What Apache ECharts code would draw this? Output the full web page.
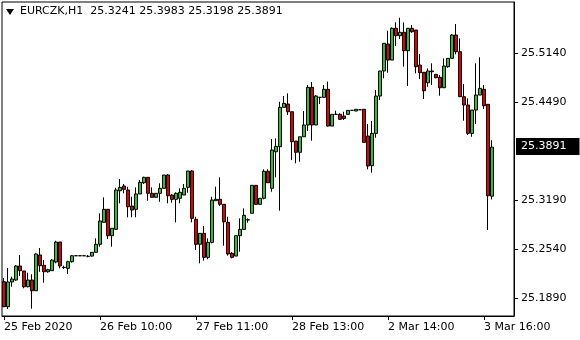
<!DOCTYPE html>
<html>
<head>
<meta charset="utf-8">
<script src="https://cdn.jsdelivr.net/npm/echarts@6/dist/echarts.min.js"></script>
<style>
html,body{margin:0;padding:0;background:#fff;}
#chart{width:580px;height:340px;}
</style>
</head>
<body>
<div id="chart"></div>
<script>
var symbolName = 'EURCZK,H1';
var tickLabels = ['25 Feb 2020', '26 Feb 10:00', '27 Feb 11:00', '28 Feb 13:00', '2 Mar 14:00', '3 Mar 16:00'];
var tickBars = [0, 24, 48, 72, 96, 120];
var priceTicks = [25.1890, 25.2540, 25.3190, 25.4490, 25.5140];

var opens = [
25.2107,25.1775,25.2103,25.2129,25.2315,25.2249,25.2040,25.2129,25.1987,25.2461,
25.2324,25.2239,25.2253,25.2368,25.2633,25.2298,25.2284,25.2372,25.2451,25.2451,
25.2451,25.2443,25.2447,25.2496,25.2603,25.2894,25.3067,25.2717,25.2801,25.3313,
25.3376,25.3323,25.3110,25.3067,25.3270,25.3419,25.3491,25.3279,25.3226,25.3279,
25.3345,25.3522,25.3256,25.3199,25.3213,25.3256,25.3358,25.3575,25.2934,25.2603,
25.2748,25.2430,25.2629,25.3181,25.3199,25.3133,25.2894,25.2483,25.2447,25.2717,
25.2801,25.2925,25.3014,25.3385,25.3133,25.3213,25.3571,25.3345,25.3830,25.3897,
25.4419,25.4463,25.4361,25.3972,25.3823,25.4029,25.4185,25.4684,25.4185,25.4552,
25.4552,25.4658,25.4171,25.4326,25.4326,25.4304,25.4326,25.4379,25.4370,25.4387,
25.4393,25.4039,25.3645,25.4074,25.4569,25.4901,25.5259,25.5046,25.5467,25.5369,
25.5414,25.5170,25.5467,25.5444,25.4980,25.4883,25.4745,25.4901,25.4857,25.4817,
25.4679,25.4958,25.5069,25.5378,25.5156,25.4560,25.4450,25.4074,25.4383,25.4582,
25.4658,25.4459,25.3241
];
var highs = [
25.2156,25.2288,25.2173,25.2328,25.2461,25.2249,25.2226,25.2205,25.2483,25.2554,
25.2394,25.2279,25.2408,25.2650,25.2633,25.2319,25.2385,25.2461,25.2451,25.2451,
25.2451,25.2461,25.2496,25.2682,25.3014,25.3226,25.3067,25.2815,25.3353,25.3468,
25.3402,25.3366,25.3234,25.3358,25.3455,25.3499,25.3491,25.3358,25.3279,25.3411,
25.3522,25.3535,25.3270,25.3292,25.3345,25.3402,25.3575,25.3588,25.2969,25.2748,
25.2845,25.2682,25.3234,25.3366,25.3491,25.3133,25.2969,25.2500,25.2717,25.2947,
25.3080,25.2947,25.3385,25.3385,25.3213,25.3597,25.3597,25.3999,25.4008,25.4493,
25.4569,25.4605,25.4361,25.3972,25.4029,25.4370,25.4715,25.4755,25.4582,25.4552,
25.4715,25.4761,25.4326,25.4374,25.4340,25.4361,25.4379,25.4379,25.4393,25.4387,
25.4393,25.4198,25.4238,25.4649,25.4901,25.5268,25.5435,25.5480,25.5546,25.5607,
25.5546,25.5467,25.5511,25.5444,25.5126,25.4883,25.4936,25.5003,25.4857,25.4848,
25.5069,25.5069,25.5391,25.5524,25.5334,25.4728,25.4539,25.4383,25.5003,25.5082,
25.4715,25.4459,25.3983
];
var lows = [
25.1771,25.1745,25.2040,25.2120,25.2182,25.2019,25.2032,25.1749,25.1987,25.2239,
25.2093,25.2226,25.2253,25.2351,25.2284,25.2275,25.2209,25.2359,25.2451,25.2451,
25.2451,25.2430,25.2438,25.2496,25.2571,25.2894,25.2673,25.2571,25.2801,25.3146,
25.3279,25.2961,25.2961,25.2961,25.3270,25.3402,25.3181,25.3226,25.3226,25.3167,
25.3345,25.3146,25.3154,25.2894,25.3146,25.3256,25.3287,25.2894,25.2527,25.2351,
25.2385,25.2404,25.2616,25.3181,25.3110,25.2584,25.2451,25.2417,25.2447,25.2504,
25.2792,25.2889,25.3014,25.3133,25.3133,25.3199,25.3419,25.3300,25.3491,25.3048,
25.4419,25.4317,25.3720,25.3677,25.3698,25.4029,25.4105,25.3976,25.4185,25.4463,
25.4552,25.4165,25.4171,25.4317,25.4251,25.4251,25.4326,25.4379,25.4370,25.4387,
25.3955,25.3597,25.3552,25.4016,25.4516,25.4804,25.4878,25.5046,25.5232,25.5325,
25.4958,25.4702,25.5408,25.4870,25.4794,25.4529,25.4692,25.4715,25.4804,25.4573,
25.4679,25.4944,25.5069,25.5122,25.4560,25.4242,25.4052,25.4029,25.4198,25.4582,
25.4397,25.2792,25.3198
];
var closes = [
25.1775,25.2103,25.2142,25.2315,25.2253,25.2040,25.2129,25.1987,25.2474,25.2319,
25.2239,25.2266,25.2394,25.2633,25.2315,25.2295,25.2372,25.2451,25.2451,25.2451,
25.2451,25.2443,25.2496,25.2603,25.2912,25.3067,25.2717,25.2815,25.3323,25.3358,
25.3332,25.3101,25.3057,25.3270,25.3425,25.3491,25.3279,25.3226,25.3279,25.3345,
25.3522,25.3247,25.3199,25.3279,25.3292,25.3345,25.3575,25.2947,25.2603,25.2748,
25.2430,25.2629,25.3190,25.3199,25.3133,25.2902,25.2474,25.2430,25.2717,25.2801,
25.2987,25.2929,25.3385,25.3133,25.3213,25.3571,25.3419,25.3853,25.3902,25.4419,
25.4472,25.4361,25.3963,25.3823,25.4029,25.4185,25.4684,25.4185,25.4569,25.4552,
25.4658,25.4171,25.4326,25.4326,25.4260,25.4271,25.4379,25.4379,25.4393,25.4387,
25.3955,25.3641,25.4074,25.4569,25.4901,25.5268,25.5046,25.5467,25.5369,25.5414,
25.5170,25.5467,25.5422,25.4958,25.4878,25.4639,25.4901,25.4891,25.4812,25.4679,
25.4967,25.5069,25.5378,25.5156,25.4560,25.4450,25.4074,25.4383,25.4582,25.4671,
25.4440,25.3247,25.3891
];

var FONT = 'DejaVu Sans';
var slots = 128;
var cats = [];
for (var i = 0; i < slots; i++) cats.push(i);
var candleData = [];
for (var j = 0; j < opens.length; j++) candleData.push([opens[j], closes[j], lows[j], highs[j]]);
var last = opens.length - 1;
var lastClose = closes[last];
var header = symbolName + '  ' + opens[last].toFixed(4) + ' ' + highs[last].toFixed(4) + ' ' + lows[last].toFixed(4) + ' ' + closes[last].toFixed(4);
function isTick(idx) { return tickBars.indexOf(idx) >= 0; }

var chart = echarts.init(document.getElementById('chart'), null, {renderer: 'canvas'});
chart.setOption({
  animation: false,
  backgroundColor: '#fff',
  grid: {left: 2, right: 66, top: 2, bottom: 24, show: true, borderColor: '#000', borderWidth: 1, backgroundColor: 'transparent'},
  xAxis: {
    type: 'category', data: cats, boundaryGap: true,
    axisLine: {show: true, lineStyle: {color: '#000', width: 1}},
    axisTick: {show: true, alignWithLabel: true, length: 4, interval: function (idx) { return isTick(idx); }, lineStyle: {color: '#000'}},
    axisLabel: {show: true, interval: function (idx) { return isTick(idx); }, align: 'left', margin: 6, color: '#000', fontFamily: FONT, fontSize: 11,
      formatter: function (v, idx) { var k = tickBars.indexOf(Number(v)); return k >= 0 ? tickLabels[k] : ''; }},
    splitLine: {show: false}
  },
  yAxis: {
    type: 'value', position: 'right', min: 25.1652, max: 25.5816, scale: true,
    axisLine: {show: true, lineStyle: {color: '#000', width: 1}},
    axisTick: {show: true, length: 4, inside: false, customValues: priceTicks, lineStyle: {color: '#000'}},
    axisLabel: {show: true, margin: 7, customValues: priceTicks, color: '#000', fontFamily: FONT, fontSize: 11,
      formatter: function (v) { return Number(v).toFixed(4); }},
    splitLine: {show: false}
  },
  series: [{
    type: 'candlestick',
    data: candleData,
    barWidth: 3,
    itemStyle: {color: '#2fc02f', color0: '#e00000', borderColor: '#000', borderColor0: '#000', borderWidth: 1},
    markLine: {
      silent: true, symbol: ['none', 'none'],
      lineStyle: {color: 'rgba(0,0,0,0)', width: 1, type: 'solid'},
      emphasis: {disabled: true},
      data: [{yAxis: lastClose}],
      label: {show: true, position: 'end', distance: 2, formatter: function () { return lastClose.toFixed(4); },
        backgroundColor: '#000', color: '#fff', fontFamily: FONT, fontSize: 11, lineHeight: 12, padding: [3, 13, 2, 5], opacity: 1}
    }
  }],
  graphic: [
    {type: 'polygon', shape: {points: [[6, 9], [14, 9], [10, 15]]}, style: {fill: '#000'}},
    {type: 'text', left: 20, top: 6, style: {text: header, fill: '#000', font: '11px "DejaVu Sans"'}}
  ]
});
</script>
</body>
</html>
